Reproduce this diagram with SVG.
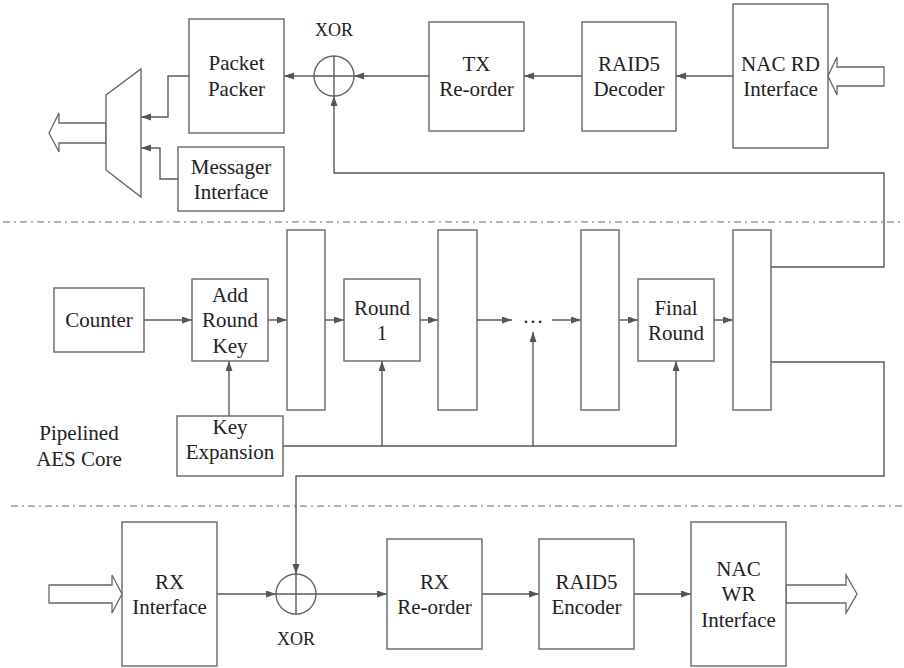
<svg xmlns="http://www.w3.org/2000/svg" width="904" height="668" viewBox="0 0 904 668" font-family="Liberation Serif, Times New Roman, DejaVu Serif, serif">
<defs>
<marker id="ah" markerUnits="userSpaceOnUse" markerWidth="10" markerHeight="8" refX="10" refY="3.5" orient="auto">
<path d="M0,0 L10,3.5 L0,7 z" fill="#555"/>
</marker>
<style>
.b{fill:#fff;stroke:#666;stroke-width:1.4}
.c{fill:none;stroke:#5a5a5a;stroke-width:1.4}
.a{fill:none;stroke:#5a5a5a;stroke-width:1.4;marker-end:url(#ah)}
.d{fill:none;stroke:#9a9a9a;stroke-width:1.3;stroke-dasharray:7 4 2 4}
.h{fill:#fff;stroke:#666;stroke-width:1.3}
.t{font-family:'Liberation Serif','Times New Roman',serif;font-size:21px;fill:#222;text-anchor:middle}
.x{font-size:18px}
</style>
</defs>

<line class="d" x1="3" y1="222" x2="904" y2="222"/>
<line class="d" x1="11" y1="506" x2="904" y2="506"/>

<g id="connectors">
<path class="a" d="M733,76 H676"/>
<path class="a" d="M582,76 H524"/>
<path class="a" d="M429,76 H354"/>
<path class="a" d="M314,76 H284"/>
<path class="a" d="M189,76 H168 V117 H141"/>
<path class="a" d="M178,179 H160 V148 H141"/>
<path class="a" d="M771,267 H884 V173 H334 V96"/>
<path class="a" d="M771,362 H884 V476 H296 V574"/>
<path class="a" d="M144,320 H192"/>
<path class="a" d="M268,320 H287"/>
<path class="a" d="M325,320 H344"/>
<path class="a" d="M420,320 H438"/>
<path class="a" d="M477,320 H512"/>
<path class="a" d="M552,320 H581"/>
<path class="a" d="M619,320 H638"/>
<path class="a" d="M714,320 H733"/>
<path class="a" d="M229,416 V361"/>
<path class="a" d="M283,446 H676 V361"/>
<path class="a" d="M382,446 V361"/>
<path class="a" d="M533,446 V332"/>
<path class="a" d="M217,594 H276"/>
<path class="a" d="M316,594 H387"/>
<path class="a" d="M482,594 H539"/>
<path class="a" d="M634,594 H691"/>
</g>

<g id="in-top"><polygon class="h" points="884,67 837,67 837,57 828,76 837,95 837,86 884,86"/></g>
<g id="out-top"><polygon class="h" points="106,123 59,123 59,113 49,133 59,152 59,143 106,143"/></g>
<g id="in-bottom"><polygon class="h" points="49,585 112,585 112,575 122,594 112,613 112,603 49,603"/></g>
<g id="out-bottom"><polygon class="h" points="786,585 846,585 846,575 857,594 846,613 846,603 786,603"/></g>

<g id="mux"><polygon class="b" points="106,95 141,69 141,197 106,170"/></g>

<g id="packet-packer" class="t"><rect class="b" x="189" y="19" width="95" height="114"/><text x="236.5" y="70">Packet</text><text x="236.5" y="96">Packer</text></g>
<g id="messager" class="t"><rect class="b" x="178" y="147" width="106" height="64"/><text x="231" y="173.5">Messager</text><text x="231" y="198.5">Interface</text></g>
<g id="xor-top" class="t"><circle class="b" cx="334" cy="76" r="20"/><line class="c" x1="314" y1="76" x2="354" y2="76"/><line class="c" x1="334" y1="56" x2="334" y2="96"/><text class="x" x="334" y="36">XOR</text></g>
<g id="tx-reorder" class="t"><rect class="b" x="429" y="22" width="95" height="109"/><text x="476.5" y="71">TX</text><text x="476.5" y="96">Re-order</text></g>
<g id="raid5-dec" class="t"><rect class="b" x="582" y="22" width="94" height="109"/><text x="629" y="71">RAID5</text><text x="629" y="96">Decoder</text></g>
<g id="nac-rd" class="t"><rect class="b" x="733" y="4" width="95" height="144"/><text x="780.5" y="71">NAC RD</text><text x="780.5" y="96">Interface</text></g>

<g id="counter" class="t"><rect class="b" x="54" y="288" width="90" height="64"/><text x="99" y="327">Counter</text></g>
<g id="add-round-key" class="t"><rect class="b" x="192" y="279" width="76" height="82"/><text x="230" y="301.5">Add</text><text x="230" y="327">Round</text><text x="230" y="352.5">Key</text></g>
<g id="reg1"><rect class="b" x="287" y="230" width="38" height="180"/></g>
<g id="round1" class="t"><rect class="b" x="344" y="279" width="76" height="82"/><text x="382" y="314.5">Round</text><text x="382" y="340">1</text></g>
<g id="reg2"><rect class="b" x="438" y="230" width="39" height="180"/></g>
<g id="dots" class="t"><text x="533" y="323">…</text></g>
<g id="reg3"><rect class="b" x="581" y="230" width="38" height="180"/></g>
<g id="final-round" class="t"><rect class="b" x="638" y="279" width="76" height="82"/><text x="676" y="314.5">Final</text><text x="676" y="340">Round</text></g>
<g id="reg4"><rect class="b" x="733" y="230" width="38" height="180"/></g>
<g id="key-expansion" class="t"><rect class="b" x="177" y="416" width="106" height="60"/><text x="230" y="433.5">Key</text><text x="230" y="459">Expansion</text></g>
<g id="aes-label" class="t"><text x="79" y="440">Pipelined</text><text x="79" y="466">AES Core</text></g>

<g id="rx-interface" class="t"><rect class="b" x="122" y="522" width="95" height="144"/><text x="169.5" y="588.5">RX</text><text x="169.5" y="614">Interface</text></g>
<g id="xor-bottom" class="t"><circle class="b" cx="296" cy="594" r="20"/><line class="c" x1="276" y1="594" x2="316" y2="594"/><line class="c" x1="296" y1="574" x2="296" y2="614"/><text class="x" x="296" y="645">XOR</text></g>
<g id="rx-reorder" class="t"><rect class="b" x="387" y="539" width="95" height="110"/><text x="434.5" y="588.5">RX</text><text x="434.5" y="614">Re-order</text></g>
<g id="raid5-enc" class="t"><rect class="b" x="539" y="539" width="95" height="110"/><text x="586.5" y="588.5">RAID5</text><text x="586.5" y="614">Encoder</text></g>
<g id="nac-wr" class="t"><rect class="b" x="691" y="522" width="95" height="144"/><text x="738.5" y="575.5">NAC</text><text x="738.5" y="601">WR</text><text x="738.5" y="626.5">Interface</text></g>
</svg>
